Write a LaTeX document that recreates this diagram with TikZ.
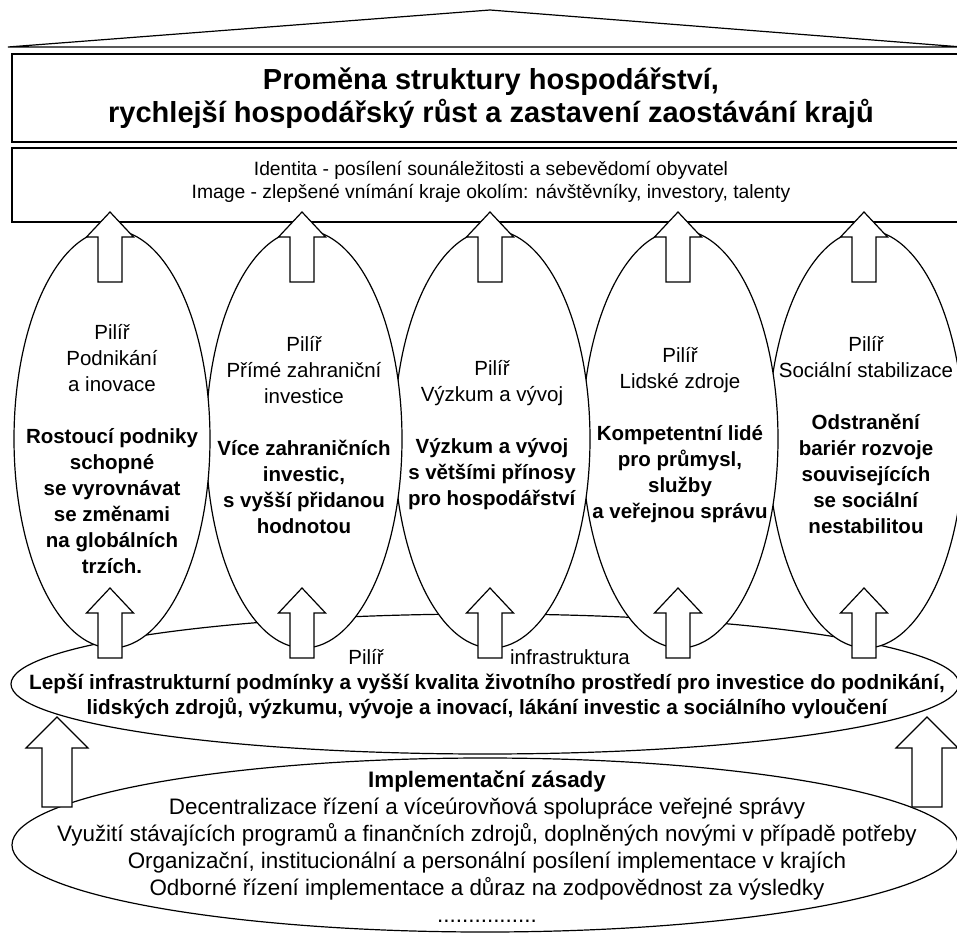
\documentclass[tikz,border=0pt]{standalone}
\usepackage{fontspec}
\setmainfont{Liberation Sans}
\usetikzlibrary{shapes.geometric}

\begin{document}
\begin{tikzpicture}[x=1pt,y=-1pt,line width=1.2pt,
 every node/.style={outer sep=0pt,inner sep=0pt},
 box/.style={draw,fill=white,minimum width=958},
 pillar/.style={draw,fill=white,ellipse,minimum width=196,minimum height=418},
 bigell/.style={draw,fill=white,ellipse},
 txt/.style={align=center,font=\fontsize{20.5}{26}\selectfont},
 uparr/.pic={\draw[fill=white] (0,0) -- (23.5,25) -- (12,25) -- (12,70)
   -- (-12,70) -- (-12,25) -- (-23.5,25) -- cycle;},
 sidearr/.pic={\draw[fill=white] (0,0) -- (31,31) -- (15,31) -- (15,90)
   -- (-15,90) -- (-15,31) -- (-31,31) -- cycle;}]
  \useasboundingbox (0,0) rectangle (957,933);

  % roof and boxes
  \draw (8,47) -- (490,10) -- (962,47) -- cycle;
  \node[box,minimum height=88,align=center,
   font=\fontsize{29}{33}\selectfont\bfseries] (title) at (491,98)
   {Proměna struktury hospodářství,\\rychlejší hospodářský růst a zastavení zaostávání krajů};
  \node[box,minimum height=74] (ident) at (491,185) {};
  \node[align=center,font=\fontsize{19.3}{23}\selectfont] (identtxt) at (491,182)
   {Identita - posílení sounáležitosti a sebevědomí obyvatel\\Image - zlepšené vnímání kraje okolím: návštěvníky, investory, talenty};

  % infrastructure
  \node[bigell,minimum width=948,minimum height=140] (infra) at (485,684) {};
  \node[txt] (ilab1) at (366,657) {Pilíř};
  \node[txt] (ilab2) at (570,657) {infrastruktura};
  \node[txt,font=\fontsize{20.7}{25}\selectfont\bfseries] (infratxt) at (487,696)
   {Lepší infrastrukturní podmínky a vyšší kvalita životního prostředí pro investice do podnikání,\\lidských zdrojů, výzkumu, vývoje a inovací, lákání investic a sociálního vyloučení};

  % implementation
  \node[bigell,minimum width=946,minimum height=174] (impl) at (485,845) {};
  \node[txt,font=\fontsize{22.4}{27}\selectfont] (impltxt) at (487,847)
   {\textbf{Implementační zásady}\\Decentralizace řízení a víceúrovňová spolupráce veřejné správy\\Využití stávajících programů a finančních zdrojů, doplněných novými v případě potřeby\\Organizační, institucionální a personální posílení implementace v krajích\\Odborné řízení implementace a důraz na zodpovědnost za výsledky\\................};
  \pic at (57,717) {sidearr};
  \pic at (927,717) {sidearr};

  % pillars, right to left
  \node[pillar] (p5) at (866,439) {};
  \node[txt] (t5) at (866,435) {Pilíř\\Sociální stabilizace\\[26pt]\textbf{Odstranění}\\\textbf{bariér rozvoje}\\\textbf{souvisejících}\\\textbf{se sociální}\\\textbf{nestabilitou}};
  \node[pillar] (p4) at (680,439) {};
  \node[txt] (t4) at (680,435) {Pilíř\\Lidské zdroje\\[26pt]\textbf{Kompetentní lidé}\\\textbf{pro průmysl,}\\\textbf{služby}\\\textbf{a veřejnou správu}};
  \node[pillar] (p3) at (492,439) {};
  \node[txt] (t3) at (492,435) {Pilíř\\Výzkum a vývoj\\[26pt]\textbf{Výzkum a vývoj}\\\textbf{s většími přínosy}\\\textbf{pro hospodářství}};
  \node[pillar] (p2) at (304,439) {};
  \node[txt] (t2) at (304,435) {Pilíř\\Přímé zahraniční\\investice\\[26pt]\textbf{Více zahraničních}\\\textbf{investic,}\\\textbf{s vyšší přidanou}\\\textbf{hodnotou}};
  \node[pillar] (p1) at (112,439) {};
  \node[txt] (t1) at (112,449) {Pilíř\\Podnikání\\a inovace\\[26pt]\textbf{Rostoucí podniky}\\\textbf{schopné}\\\textbf{se vyrovnávat}\\\textbf{se změnami}\\\textbf{na globálních}\\\textbf{trzích.}};

  \foreach \X in {1,...,5}
  {\pic at ([shift={(-2,-18)}]p\X.north) {uparr};
   \pic at ([shift={(-2,-60)}]p\X.south) {uparr};
  }

\end{tikzpicture}
\end{document}
